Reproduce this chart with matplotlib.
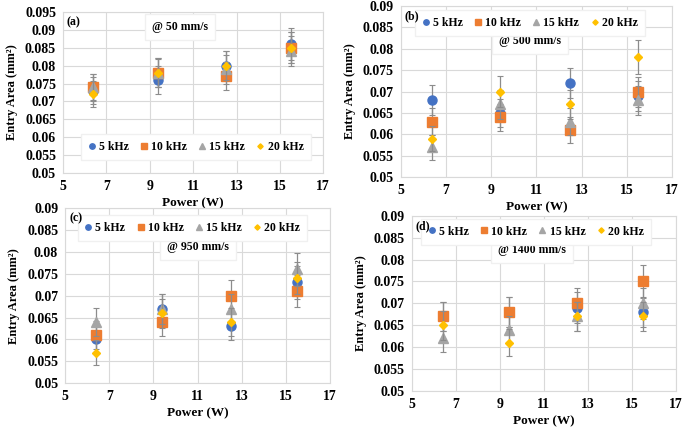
import matplotlib
matplotlib.use('Agg')
import matplotlib.pyplot as plt
import numpy as np

plt.rcParams['font.family'] = ['Liberation Serif', 'DejaVu Serif']
plt.rcParams['font.weight'] = 'bold'

power = [6.4, 9.4, 12.5, 15.5]
series_names = ['5 kHz', '10 kHz', '15 kHz', '20 kHz']

# panel (a) @ 50 mm/s
a_5 = [0.073, 0.076, 0.080, 0.086]
a_10 = [0.074, 0.078, 0.077, 0.085]
a_15 = [0.074, 0.078, 0.079, 0.084]
a_20 = [0.072, 0.078, 0.080, 0.085]
a_err = [[0.0037, 0.0038, 0.0040, 0.0044],
         [0.0037, 0.0040, 0.0039, 0.0043],
         [0.0038, 0.0040, 0.0040, 0.0042],
         [0.0036, 0.0039, 0.0040, 0.0043]]

# panel (b) @ 500 mm/s
b_5 = [0.068, 0.065, 0.072, 0.069]
b_10 = [0.063, 0.064, 0.061, 0.070]
b_15 = [0.057, 0.067, 0.063, 0.068]
b_20 = [0.059, 0.070, 0.067, 0.078]
b_err = [[0.0035, 0.0033, 0.0036, 0.0035],
         [0.0032, 0.0032, 0.0031, 0.0035],
         [0.0029, 0.0034, 0.0032, 0.0034],
         [0.0030, 0.0036, 0.0034, 0.0040]]

# panel (c) @ 950 mm/s
c_5 = [0.060, 0.067, 0.063, 0.073]
c_10 = [0.061, 0.064, 0.070, 0.071]
c_15 = [0.064, 0.067, 0.067, 0.076]
c_20 = [0.057, 0.066, 0.064, 0.074]
c_err = [[0.0030, 0.0034, 0.0032, 0.0037],
         [0.0031, 0.0032, 0.0035, 0.0036],
         [0.0032, 0.0034, 0.0034, 0.0038],
         [0.0029, 0.0033, 0.0032, 0.0037]]

# panel (d) @ 1400 mm/s
d_5 = [0.067, 0.068, 0.069, 0.068]
d_10 = [0.067, 0.068, 0.070, 0.075]
d_15 = [0.062, 0.064, 0.067, 0.070]
d_20 = [0.065, 0.061, 0.067, 0.067]
d_err = [[0.0034, 0.0034, 0.0035, 0.0034],
         [0.0034, 0.0034, 0.0035, 0.0038],
         [0.0031, 0.0032, 0.0034, 0.0035],
         [0.0033, 0.0031, 0.0034, 0.0034]]

colors = ['#4472C4', '#ED7D31', '#A5A5A5', '#FFC000']
markers = ['o', 's', '^', 'D']
msizes = [6.5, 6.5, 6.5, 4.5]

panels = [
    dict(pos=[0.092, 0.598, 0.380, 0.374], ys=[a_5, a_10, a_15, a_20], err=a_err,
         ymax=0.095, tag='(a)', note='@ 50 mm/s', note_xy=(0.45, 0.905),
         leg_xy=(0.51, 0.16)),
    dict(pos=[0.585, 0.588, 0.396, 0.398], ys=[b_5, b_10, b_15, b_20], err=b_err,
         ymax=0.09, tag='(b)', note='@ 500 mm/s', note_xy=(0.476, 0.795),
         leg_xy=(0.476, 0.90)),
    dict(pos=[0.095, 0.109, 0.387, 0.407], ys=[c_5, c_10, c_15, c_20], err=c_err,
         ymax=0.09, tag='(c)', note='@ 950 mm/s', note_xy=(0.50, 0.777),
         leg_xy=(0.48, 0.886)),
    dict(pos=[0.601, 0.091, 0.386, 0.407], ys=[d_5, d_10, d_15, d_20], err=d_err,
         ymax=0.09, tag='(d)', note='@ 1400 mm/s', note_xy=(0.455, 0.806),
         leg_xy=(0.47, 0.91)),
]

fig = plt.figure(figsize=(6.85, 4.3), dpi=100)

for p in panels:
    ax = fig.add_axes(p['pos'])
    handles = []
    for i in range(4):
        ax.errorbar(power, p['ys'][i], yerr=p['err'][i], fmt='none', ecolor='#8c8c8c',
                    elinewidth=0.9, capsize=2, capthick=0.8, zorder=2 + i)
        h, = ax.plot(power, p['ys'][i], linestyle='none', marker=markers[i], color=colors[i],
                     markersize=msizes[i], label=series_names[i], zorder=3 + i)
        handles.append(h)
    yt = np.arange(0.05, p['ymax'] + 0.001, 0.005)
    ax.set_xlim(5, 17)
    ax.set_ylim(0.05, p['ymax'])
    ax.set_xticks(range(5, 18, 2))
    ax.set_yticks(yt)
    ax.set_yticklabels(['%g' % round(v, 3) for v in yt])
    ax.grid(True, color='#d9d9d9', linewidth=0.8)
    ax.set_axisbelow(True)
    for s in ax.spines.values():
        s.set_color('#d9d9d9')
        s.set_linewidth(0.8)
    ax.tick_params(length=0, labelsize=10, pad=5)
    ax.set_ylabel('Entry Area (mm²)', fontsize=9, fontweight='bold', labelpad=5)
    ax.set_xlabel('Power (W)', fontsize=9.5, fontweight='bold', labelpad=3)
    ax.text(0.015, 0.975, p['tag'], transform=ax.transAxes, ha='left', va='top',
            fontsize=8.5, fontweight='bold', zorder=11)
    ax.text(p['note_xy'][0], p['note_xy'][1], p['note'], transform=ax.transAxes,
            ha='center', va='center', fontsize=8.5, fontweight='bold', zorder=10,
            bbox=dict(facecolor='white', edgecolor='#f0f0f0', boxstyle='square,pad=0.6'))
    leg = ax.legend(handles=handles, loc='center', bbox_to_anchor=p['leg_xy'], ncol=4,
                    frameon=True, fancybox=False, edgecolor='#f0f0f0', framealpha=1,
                    handlelength=0.6, handletextpad=0.3, columnspacing=1.0,
                    borderpad=0.6, markerscale=0.6, prop=dict(weight='bold', size=8.5))
    leg.set_zorder(10)

fig.savefig('out.png', dpi=100)
